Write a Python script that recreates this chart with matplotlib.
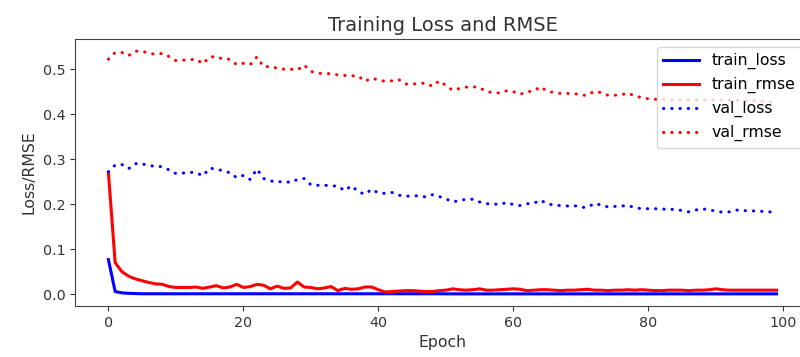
import matplotlib
matplotlib.use("Agg")
import matplotlib.pyplot as plt
import numpy as np

epochs = list(range(100))

train_loss = [0.077, 0.006, 0.003, 0.002, 0.0015] + [0.001] * 45 + [0.0008] * 50

train_rmse = [0.270, 0.070, 0.050, 0.040, 0.034, 0.030, 0.026, 0.023, 0.022, 0.017,
              0.015, 0.015, 0.015, 0.016, 0.013, 0.016, 0.019, 0.014, 0.016, 0.022,
              0.015, 0.017, 0.022, 0.020, 0.012, 0.018, 0.013, 0.014, 0.027, 0.016,
              0.015, 0.012, 0.014, 0.017, 0.008, 0.013, 0.011, 0.012, 0.016, 0.016,
              0.010, 0.005, 0.006, 0.007, 0.008, 0.008, 0.007, 0.006, 0.006, 0.008,
              0.009, 0.012, 0.010, 0.009, 0.010, 0.012, 0.009, 0.009, 0.010, 0.011,
              0.012, 0.011, 0.008, 0.009, 0.010, 0.010, 0.009, 0.008, 0.009, 0.009,
              0.010, 0.011, 0.009, 0.009, 0.008, 0.009, 0.009, 0.010, 0.009, 0.010,
              0.009, 0.008, 0.008, 0.009, 0.009, 0.009, 0.008, 0.009, 0.009, 0.010,
              0.012, 0.010, 0.009, 0.009, 0.009, 0.009, 0.009, 0.009, 0.009, 0.009]

val_loss = [0.272, 0.287, 0.288, 0.279, 0.290, 0.290, 0.285, 0.285, 0.283, 0.276,
            0.268, 0.269, 0.271, 0.270, 0.263, 0.280, 0.278, 0.274, 0.270, 0.259,
            0.264, 0.255, 0.278, 0.257, 0.252, 0.249, 0.251, 0.248, 0.255, 0.257,
            0.243, 0.242, 0.242, 0.241, 0.240, 0.230, 0.241, 0.228, 0.222, 0.233,
            0.225, 0.224, 0.226, 0.220, 0.218, 0.218, 0.219, 0.216, 0.221, 0.217,
            0.212, 0.205, 0.208, 0.211, 0.211, 0.205, 0.201, 0.201, 0.199, 0.204,
            0.199, 0.197, 0.201, 0.202, 0.209, 0.201, 0.198, 0.197, 0.196, 0.197,
            0.193, 0.193, 0.202, 0.198, 0.194, 0.195, 0.196, 0.197, 0.192, 0.190,
            0.190, 0.190, 0.189, 0.189, 0.188, 0.186, 0.183, 0.187, 0.190, 0.187,
            0.185, 0.182, 0.183, 0.187, 0.186, 0.185, 0.185, 0.184, 0.183, 0.180]

val_rmse = [0.522, 0.537, 0.537, 0.530, 0.540, 0.540, 0.535, 0.533, 0.535, 0.528,
            0.519, 0.520, 0.521, 0.522, 0.512, 0.527, 0.528, 0.522, 0.522, 0.510,
            0.513, 0.510, 0.527, 0.505, 0.506, 0.502, 0.500, 0.500, 0.498, 0.509,
            0.495, 0.491, 0.490, 0.490, 0.487, 0.486, 0.485, 0.485, 0.473, 0.480,
            0.476, 0.473, 0.474, 0.477, 0.467, 0.467, 0.468, 0.469, 0.462, 0.474,
            0.464, 0.453, 0.457, 0.460, 0.461, 0.459, 0.450, 0.448, 0.447, 0.452,
            0.450, 0.444, 0.450, 0.451, 0.461, 0.451, 0.448, 0.446, 0.446, 0.446,
            0.442, 0.442, 0.451, 0.448, 0.442, 0.442, 0.443, 0.447, 0.440, 0.437,
            0.434, 0.433, 0.434, 0.432, 0.431, 0.431, 0.432, 0.431, 0.433, 0.431,
            0.431, 0.432, 0.431, 0.431, 0.430, 0.431, 0.430, 0.429, 0.428, 0.425]

fig = plt.figure(figsize=(8.0, 3.57), dpi=100)
ax = fig.add_axes([75 / 800, 51 / 357, 735 / 800, 267 / 357])

lw = 2.2
dots = (0, (0.1, 2.6))
ax.plot(epochs, train_loss, color="blue", lw=lw, label="train_loss")
ax.plot(epochs, train_rmse, color="red", lw=lw, label="train_rmse")
ax.plot(epochs, val_loss, color="blue", lw=lw, ls=dots, dash_capstyle="round",
        label="val_loss")
ax.plot(epochs, val_rmse, color="red", lw=lw, ls=dots, dash_capstyle="round",
        label="val_rmse")

ax.set_title("Training Loss and RMSE", fontsize=14, color="#333333")
ax.set_xlabel("Epoch", fontsize=11.3, color="#333333")
ax.set_ylabel("Loss/RMSE", fontsize=11.3, color="#333333")
ax.set_xticks([0, 20, 40, 60, 80, 100])
ax.set_yticks([0.0, 0.1, 0.2, 0.3, 0.4, 0.5])
ax.tick_params(labelsize=10.3, colors="#333333")
for s in ax.spines.values():
    s.set_color("#444444")

ax.legend(loc="upper right", fontsize=11.3, handlelength=2.3)

fig.savefig("out.png", dpi=100)
